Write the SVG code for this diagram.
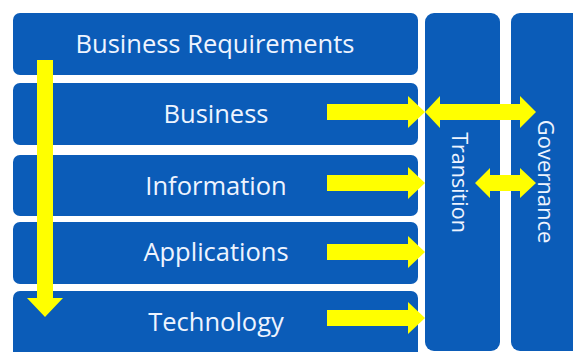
<svg xmlns="http://www.w3.org/2000/svg" width="573" height="352" viewBox="0 0 573 352">
<style>
.box{fill:#0B5CB8}
.lbl{font-family:"Open Sans","Liberation Sans",sans-serif;font-size:25.5px;fill:#EEF4FF;text-anchor:middle}
.vl{font-size:21.5px}
.arr{fill:#FFFF00}
</style>
<rect width="573" height="352" fill="#FFFFFF"/>
<g id="node-business-requirements"><rect class="box" x="13" y="13" width="405" height="62" rx="7"/><text class="lbl" x="215" y="53">Business Requirements</text></g>
<g id="node-business"><rect class="box" x="13" y="83" width="405" height="62" rx="7"/><text class="lbl" x="216" y="123">Business</text></g>
<g id="node-information"><rect class="box" x="13" y="155" width="405" height="61" rx="7"/><text class="lbl" x="216" y="195">Information</text></g>
<g id="node-applications"><rect class="box" x="13" y="222" width="405" height="62" rx="7"/><text class="lbl" x="216" y="261">Applications</text></g>
<g id="node-technology"><rect class="box" x="13" y="291" width="405" height="70" rx="7"/><text class="lbl" x="216" y="331">Technology</text></g>
<g id="node-transition"><rect class="box" x="425" y="13" width="75" height="338" rx="9"/><text class="lbl vl" transform="translate(452 182.5) rotate(90)">Transition</text></g>
<g id="node-governance"><rect class="box" x="511" y="13" width="75" height="338" rx="9"/><text class="lbl vl" style="font-size:22px" transform="translate(538 181.5) rotate(90)">Governance</text></g>
<g id="connectors">
<polygon class="arr" points="37,60 53,60 53,298 63,298 45,317 27,298 37,298"/>
<polygon class="arr" points="327,104 408,104 408,96 425,112 408,128 408,120 327,120"/>
<polygon class="arr" points="425,112 440,96 440,104 520,104 520,96 536,112 520,128 520,120 440,120 440,128"/>
<polygon class="arr" points="327,175 408,175 408,167 425,183 408,199 408,191 327,191"/>
<polygon class="arr" points="475,183 490,168 490,175 520,175 520,168 536,183 520,198 520,191 490,191 490,198"/>
<polygon class="arr" points="327,244 408,244 408,236 425,252 408,268 408,260 327,260"/>
<polygon class="arr" points="327,310 408,310 408,302 425,318 408,334 408,326 327,326"/>
</g>
</svg>
